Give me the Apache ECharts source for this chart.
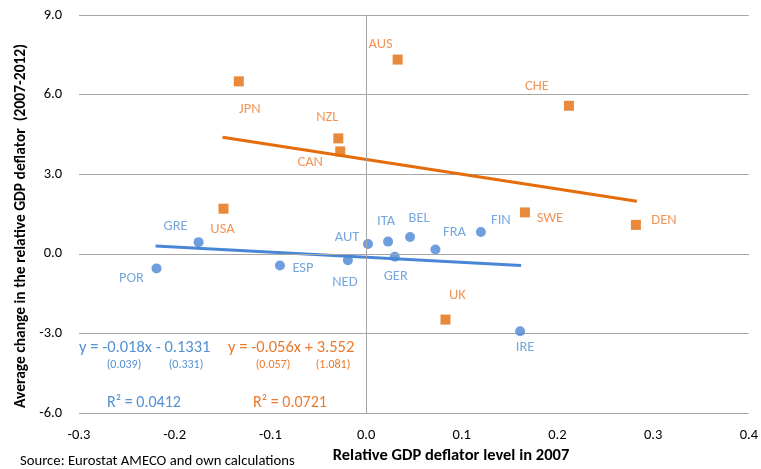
<!DOCTYPE html>
<html>
<head>
<meta charset="utf-8">
<script src="https://cdn.jsdelivr.net/npm/echarts@6/dist/echarts.min.js"></script>
<style>html,body{margin:0;padding:0;background:#fff}#c{width:761px;height:469px}</style>
</head>
<body>
<div id="c"></div>
<script>
// ---- data ----
const euNames = ['POR','GRE','ESP','NED','AUT','ITA','BEL','FRA','FIN','GER','IRE'];
const euX = [-0.219,-0.175,-0.090,-0.019,0.002,0.023,0.046,0.0725,0.120,0.030,0.161];
const euY = [-0.55,0.44,-0.44,-0.24,0.37,0.46,0.63,0.16,0.82,-0.11,-2.92];
const nonEuNames = ['AUS','JPN','NZL','CAN','USA','CHE','SWE','DEN','UK'];
const nonEuX = [0.033,-0.133,-0.029,-0.027,-0.149,0.212,0.166,0.282,0.083];
const nonEuY = [7.32,6.50,4.35,3.86,1.70,5.58,1.56,1.09,-2.48];
const euTrendX = [-0.220,0.162];
const euTrendY = [0.29,-0.44];
const nonEuTrendX = [-0.150,0.283];
const nonEuTrendY = [4.39,1.98];
const xTicks = [-0.3,-0.2,-0.1,0.0,0.1,0.2,0.3,0.4];
const yTicks = [-6.0,-3.0,0.0,3.0,6.0,9.0];

// ---- styles (label offsets in px) ----
const euOffsets = [[-25,10],[-23,-16],[23,3],[-3,22],[-21,-7],[-2,-20],[9,-19],[19,-17],[20,-12],[1,20],[5,16]];
const nonEuOffsets = [[-17,-15],[11,28],[-11,-21],[-30,11],[-1,21],[-32,-19],[25,6],[28,-5],[12,-24]];

const FONT = 'Carlito, Calibri, Lato, "Open Sans", sans-serif';
const BLUE = '#4A86D6', BLUE_T = '#5591D3', ORANGE = '#E46C0A', ORANGE_T = '#EC7A2C';

function pts(names, xs, ys, offs, color) {
  return names.map((n, i) => ({
    value: [xs[i], ys[i]], name: n,
    label: { show: true, formatter: n, position: 'inside', offset: offs[i], color: color,
             fontFamily: FONT, fontSize: 14.5, align: 'center', verticalAlign: 'middle' }
  }));
}

const chart = echarts.init(document.getElementById('c'), null, {renderer: 'canvas'});
const fmt1 = v => Number(v).toFixed(1);

chart.setOption({
  animation: false,
  grid: { left: 79, right: 12, top: 15, bottom: 56, containLabel: false },
  xAxis: {
    type: 'value', min: xTicks[0], max: xTicks[xTicks.length-1], interval: 0.1,
    axisLine: { show: false }, axisTick: { show: false }, splitLine: { show: false },
    axisLabel: { formatter: fmt1, color: '#000', fontFamily: FONT, fontSize: 14.5, margin: 15 }
  },
  yAxis: {
    type: 'value', min: yTicks[0], max: yTicks[yTicks.length-1], interval: 3,
    axisLine: { show: false }, axisTick: { show: false },
    splitLine: { show: true, lineStyle: { color: '#A6A6A6', width: 1 } },
    axisLabel: { formatter: fmt1, color: '#000', fontFamily: FONT, fontSize: 14.5, margin: 17 }
  },
  series: [
    {
      type: 'line', data: [], silent: true,
      markLine: { silent: true, symbol: 'none', label: { show: false },
        lineStyle: { color: '#A6A6A6', width: 1, type: 'solid' },
        data: [{ xAxis: 0 }, { yAxis: 0 }] }
    },
    {
      type: 'line', data: euTrendX.map((x, i) => [x, euTrendY[i]]), showSymbol: false,
      lineStyle: { color: BLUE, width: 3 }, silent: true
    },
    {
      type: 'line', data: nonEuTrendX.map((x, i) => [x, nonEuTrendY[i]]), showSymbol: false,
      lineStyle: { color: ORANGE, width: 3 }, silent: true
    },
    {
      type: 'scatter', symbol: 'circle', symbolSize: 10, itemStyle: { color: BLUE },
      data: pts(euNames, euX, euY, euOffsets, BLUE_T)
    },
    {
      type: 'scatter', symbol: 'rect', symbolSize: 10, itemStyle: { color: ORANGE },
      data: pts(nonEuNames, nonEuX, nonEuY, nonEuOffsets, ORANGE_T)
    }
  ],
  graphic: [
    { type: 'text', x: 21, y: 226, rotation: Math.PI/2,
      style: { text: 'Average change in the relative GDP deflator  (2007-2012)', fontFamily: FONT,
               fontSize: 15.5, fontWeight: 'bold', fill: '#000', align: 'center', verticalAlign: 'middle' } },
    { type: 'text', x: 451, y: 456,
      style: { text: 'Relative GDP deflator level in 2007', fontFamily: FONT,
               fontSize: 16.5, fontWeight: 'bold', fill: '#000', align: 'center', verticalAlign: 'middle' } },
    { type: 'text', x: 20, y: 461,
      style: { text: 'Source: Eurostat AMECO and own calculations', fontFamily: FONT,
               fontSize: 14.7, fill: '#000', align: 'left', verticalAlign: 'middle' } },
    { type: 'text', x: 79, y: 348,
      style: { text: 'y = -0.018x - 0.1331', fontFamily: FONT, fontSize: 16.5, fill: BLUE_T, align: 'left', verticalAlign: 'middle' } },
    { type: 'text', x: 124, y: 365,
      style: { text: '(0.039)', fontFamily: FONT, fontSize: 12, fill: BLUE_T, align: 'center', verticalAlign: 'middle' } },
    { type: 'text', x: 186, y: 365,
      style: { text: '(0.331)', fontFamily: FONT, fontSize: 12, fill: BLUE_T, align: 'center', verticalAlign: 'middle' } },
    { type: 'text', x: 107, y: 403,
      style: { text: 'R² = 0.0412', fontFamily: FONT, fontSize: 16, fill: BLUE_T, align: 'left', verticalAlign: 'middle' } },
    { type: 'text', x: 228, y: 348,
      style: { text: 'y = -0.056x + 3.552', fontFamily: FONT, fontSize: 16.5, fill: ORANGE_T, align: 'left', verticalAlign: 'middle' } },
    { type: 'text', x: 273, y: 365,
      style: { text: '(0.057)', fontFamily: FONT, fontSize: 12, fill: ORANGE_T, align: 'center', verticalAlign: 'middle' } },
    { type: 'text', x: 333, y: 365,
      style: { text: '(1.081)', fontFamily: FONT, fontSize: 12, fill: ORANGE_T, align: 'center', verticalAlign: 'middle' } },
    { type: 'text', x: 253, y: 403,
      style: { text: 'R² = 0.0721', fontFamily: FONT, fontSize: 16, fill: ORANGE_T, align: 'left', verticalAlign: 'middle' } }
  ]
});
</script>
</body>
</html>
